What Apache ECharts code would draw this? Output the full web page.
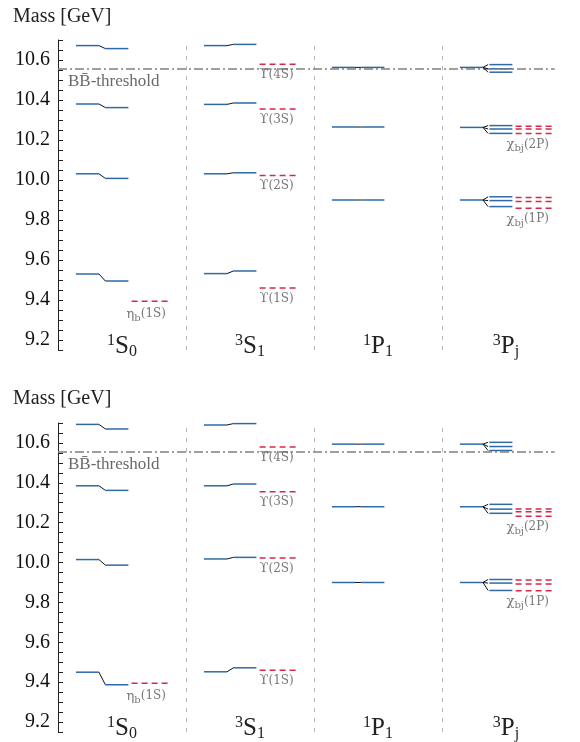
<!DOCTYPE html>
<html><head><meta charset="utf-8">
<script src="https://cdn.jsdelivr.net/npm/echarts@6/dist/echarts.min.js"></script>
<style>html,body{margin:0;padding:0;background:#fff}#c{width:580px;height:742px}</style>
</head><body><div id="c"></div>
<script>
// ---------- data ----------
const yMin = 9.15, yMax = 10.7, yStep = 0.05;
const categories = ['{sup|1}{m|S}{sub|0}', '{sup|3}{m|S}{sub|1}', '{sup|1}{m|P}{sub|1}', '{sup|3}{m|P}{sub|j}'];
const thresholdMass = 10.558;
const thresholdEnd = 3.88;

// top panel model levels
const topS0Left  = [10.672, 10.380, 10.031, 9.530];
const topS0Right = [10.657, 10.362, 10.008, 9.495];
const topS1Left  = [10.672, 10.378, 10.031, 9.532];
const topS1Right = [10.678, 10.385, 10.036, 9.545];
const topP1      = [10.563, 10.265, 9.900];
const topPjLeft  = [10.563, 10.263, 9.900];
const topPjRight = [[10.577, 10.556, 10.539], [10.272, 10.255, 10.233], [9.916, 9.897, 9.867]];

// bottom panel model levels
const botS0Left  = [10.693, 10.385, 10.015, 9.450];
const botS0Right = [10.670, 10.362, 9.987, 9.387];
const botS1Left  = [10.690, 10.385, 10.018, 9.452];
const botS1Right = [10.697, 10.394, 10.026, 9.472];
const botP1      = [10.594, 10.280, 9.900];
const botPjLeft  = [10.594, 10.280, 9.900];
const botPjRight = [[10.603, 10.582, 10.562], [10.292, 10.268, 10.247], [9.915, 9.897, 9.860]];

// experimental states
const expEtaB    = [9.394];
const expUpsilon = [10.579, 10.355, 10.023, 9.460];
const expChi2P   = [10.269, 10.255, 10.232];
const expChi1P   = [9.912, 9.893, 9.859];
const upsilonLabels = ['{g|ϒ}{n|(4S)}', '{g|ϒ}{n|(3S)}', '{g|ϒ}{n|(2S)}', '{g|ϒ}{n|(1S)}'];
const etaLabel = '{g|η}{s|b}{n|(1S)}';
const chi2PLabel = '{g|χ}{s|bj}{n|(2P)}';
const chi1PLabel = '{g|χ}{s|bj}{n|(1P)}';

// ---------- geometry / style ----------
const L0 = 0.14, L1 = 0.32, R0 = 0.37, R1 = 0.55, E0 = 0.575, E1 = 0.86;
const BLUE = '#2f6aa6', RED = '#d8284a';
const SERIF = '"Liberation Serif", "Times New Roman", Times, serif';
const LSERIF = '"DejaVu Serif", serif';
const grids = [{ left: 58, right: 10, top: 40, height: 310 }, { left: 58, right: 10, top: 423, height: 310 }];

function segRender(color, width, dash) {
  return function (params, api) {
    const p0 = api.coord([api.value(0), api.value(1)]);
    const p1 = api.coord([api.value(2), api.value(3)]);
    return { type: 'line', shape: { x1: p0[0], y1: p0[1], x2: p1[0], y2: p1[1] },
      style: { stroke: color, lineWidth: width, lineDash: dash || null, fill: null } };
  };
}

function buildPanel(gi, m) {
  const levels = [], conns = [], exps = [], labels = [];
  function split(col, left, right) {
    left.forEach((ml, i) => {
      const mr = right[i];
      levels.push([col + L0, ml, col + L1, ml]);
      levels.push([col + R0, mr, col + R1, mr]);
      conns.push([col + L1, ml, col + R0, mr]);
    });
  }
  split(0, m.s0L, m.s0R);
  split(1, m.s1L, m.s1R);
  split(2, m.p1, m.p1);
  m.pjL.forEach((ml, i) => {
    levels.push([3 + L0, ml, 3 + L1, ml]);
    m.pjR[i].forEach(mr => {
      levels.push([3 + R0, mr, 3 + R1, mr]);
      conns.push([3 + L1, ml, 3 + R0 - 0.01, mr]);
    });
  });
  expEtaB.forEach(v => exps.push([0 + E0, v, 0 + E1, v]));
  expUpsilon.forEach(v => exps.push([1 + E0, v, 1 + E1, v]));
  expChi2P.forEach(v => exps.push([3 + E0, v, 3 + E1, v]));
  expChi1P.forEach(v => exps.push([3 + E0, v, 3 + E1, v]));

  labels.push({ value: [0 + E0, expEtaB[0]], label: { formatter: etaLabel, position: [-5, 4] } });
  expUpsilon.forEach((v, i) => labels.push({ value: [1 + E0, v], label: { formatter: upsilonLabels[i], position: [0, 4] } }));
  labels.push({ value: [3 + E0, Math.min(...expChi2P)], label: { formatter: chi2PLabel, position: [-9, 2] } });
  labels.push({ value: [3 + E0, Math.min(...expChi1P)], label: { formatter: chi1PLabel, position: [-9, 2] } });
  labels.push({ value: [0, thresholdMass], label: { formatter: '{t|BB̄-threshold}', position: [10, 5] } });

  const xi = gi * 2, yi = gi;
  return [
    { type: 'line', xAxisIndex: xi, yAxisIndex: yi, data: [], silent: true,
      markLine: { silent: true, symbol: ['none', 'none'], label: { show: false },
        data: [
          { xAxis: 1, lineStyle: { color: '#b5b5b5', width: 1, type: [4, 6] } },
          { xAxis: 2, lineStyle: { color: '#b5b5b5', width: 1, type: [4, 6] } },
          { xAxis: 3, lineStyle: { color: '#b5b5b5', width: 1, type: [4, 6] } },
          [{ coord: [0, thresholdMass], lineStyle: { color: '#808080', width: 1.6, type: [9, 3, 2, 3] } },
           { coord: [thresholdEnd, thresholdMass] }]
        ] } },
    { type: 'custom', xAxisIndex: xi, yAxisIndex: yi, data: exps, encode: { x: [0, 2], y: [1, 3] },
      renderItem: segRender(RED, 1.5, [6, 4]), silent: true, z: 3 },
    { type: 'custom', xAxisIndex: xi, yAxisIndex: yi, data: levels, encode: { x: [0, 2], y: [1, 3] },
      renderItem: segRender(BLUE, 1.5), silent: true, z: 4 },
    { type: 'custom', xAxisIndex: xi, yAxisIndex: yi, data: conns, encode: { x: [0, 2], y: [1, 3] },
      renderItem: segRender('#111', 1), silent: true, z: 5 },
    { type: 'scatter', xAxisIndex: xi, yAxisIndex: yi, data: labels, symbolSize: 0.1, silent: true, z: 6,
      itemStyle: { color: 'rgba(0,0,0,0)' },
      label: { show: true, align: 'left', verticalAlign: 'top', color: '#555', fontFamily: LSERIF,
        rich: {
          g: { fontFamily: LSERIF, fontSize: 13, color: '#555' },
          n: { fontFamily: LSERIF, fontSize: 12, color: '#555' },
          s: { fontFamily: LSERIF, fontSize: 10, color: '#555', padding: [8, 0, 0, 0] },
          t: { fontFamily: SERIF, fontSize: 17, color: '#444' }
        } } }
  ];
}

const topModel = { s0L: topS0Left, s0R: topS0Right, s1L: topS1Left, s1R: topS1Right, p1: topP1, pjL: topPjLeft, pjR: topPjRight };
const botModel = { s0L: botS0Left, s0R: botS0Right, s1L: botS1Left, s1R: botS1Right, p1: botP1, pjL: botPjLeft, pjR: botPjRight };

function xAxes(gi) {
  return [
    { gridIndex: gi, type: 'value', min: 0, max: 4, show: true, axisLine: { show: false }, axisTick: { show: false },
      axisLabel: { show: false }, splitLine: { show: false } },
    { gridIndex: gi, type: 'category', data: categories, boundaryGap: true, position: 'bottom',
      axisLine: { show: false }, axisTick: { show: false }, splitLine: { show: false },
      axisLabel: { interval: 0, margin: -19, color: '#222', fontFamily: SERIF,
        rich: {
          m: { fontFamily: SERIF, fontSize: 25, color: '#222', lineHeight: 30 },
          sup: { fontFamily: SERIF, fontSize: 16, color: '#222', padding: [0, 0, 10, 0] },
          sub: { fontFamily: SERIF, fontSize: 16, color: '#222', padding: [12, 0, 0, 0] }
        } } }
  ];
}
function yAxis(gi) {
  return { gridIndex: gi, type: 'value', min: yMin, max: yMax, interval: yStep,
    axisLine: { show: true, lineStyle: { color: '#222', width: 1 } },
    axisTick: { show: true, inside: true, length: 5, lineStyle: { color: '#222' } },
    splitLine: { show: false },
    axisLabel: { margin: 8, color: '#111', fontFamily: SERIF, fontSize: 20,
      formatter: v => { const t = v * 5; return Math.abs(t - Math.round(t)) < 1e-6 ? v.toFixed(1) : ''; } } };
}

const chart = echarts.init(document.getElementById('c'), null, { renderer: 'canvas' });
chart.setOption({
  animation: false,
  backgroundColor: '#fff',
  textStyle: { fontFamily: SERIF },
  title: [
    { text: 'Mass [GeV]', left: 8, top: 2, textStyle: { fontFamily: SERIF, fontSize: 20, fontWeight: 'normal', color: '#222' } },
    { text: 'Mass [GeV]', left: 8, top: 384, textStyle: { fontFamily: SERIF, fontSize: 20, fontWeight: 'normal', color: '#222' } }
  ],
  grid: grids,
  xAxis: [...xAxes(0), ...xAxes(1)],
  yAxis: [yAxis(0), yAxis(1)],
  series: [...buildPanel(0, topModel), ...buildPanel(1, botModel)]
});
</script></body></html>
